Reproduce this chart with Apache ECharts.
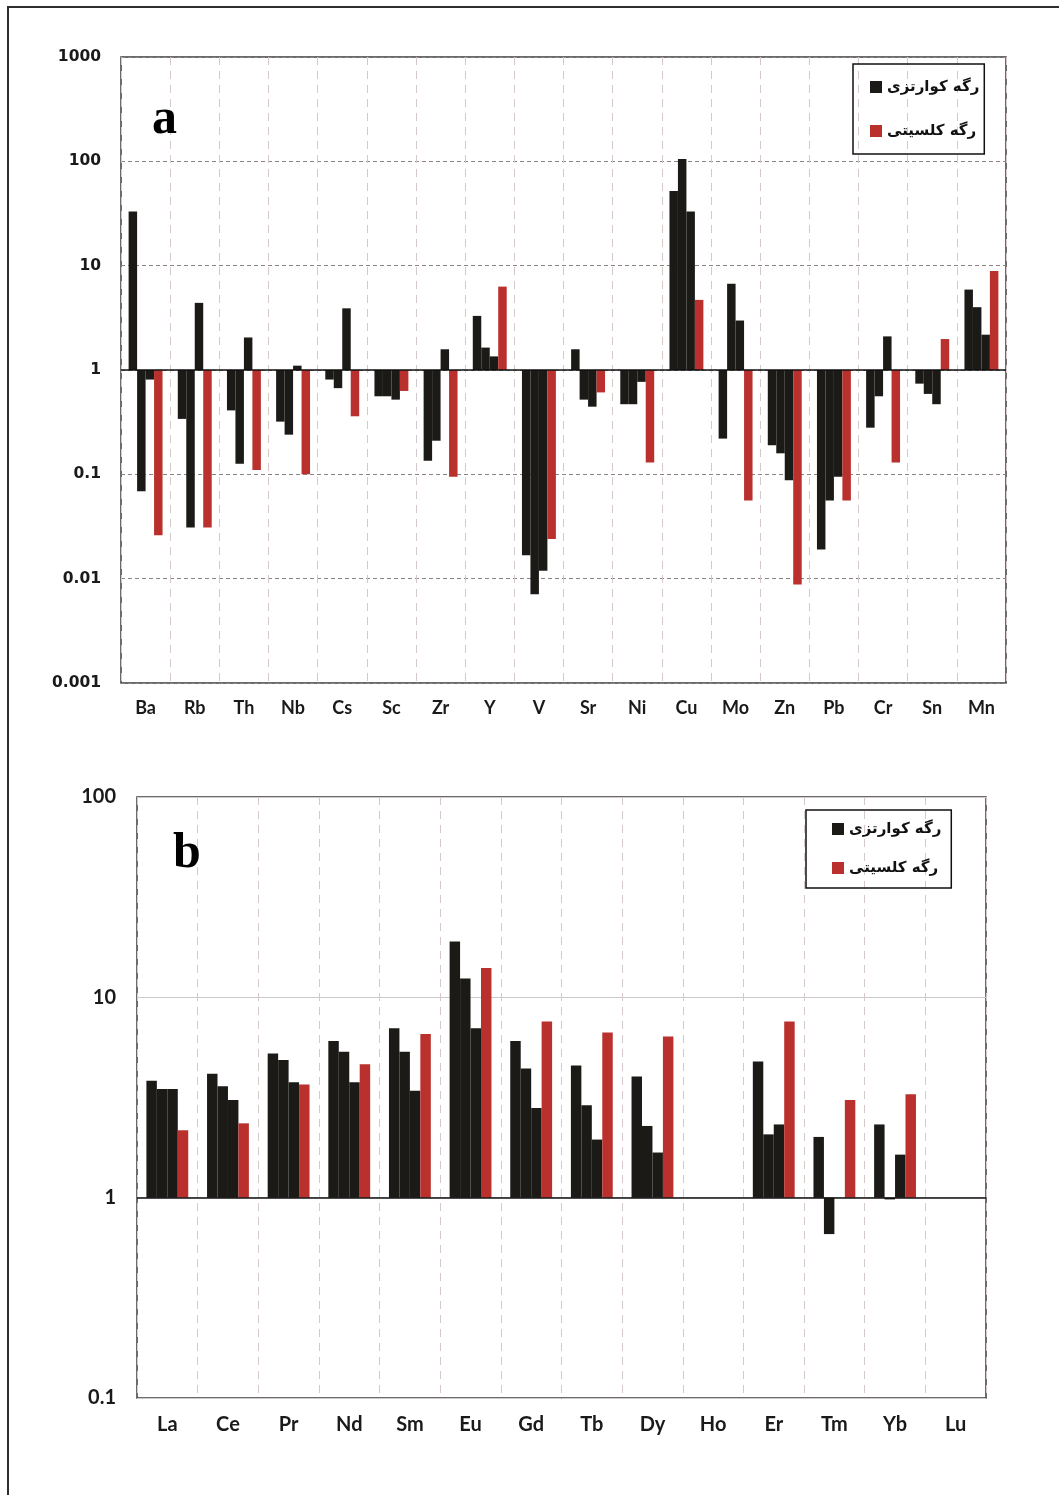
<!DOCTYPE html>
<html>
<head>
<meta charset="utf-8">
<script src="https://cdn.jsdelivr.net/npm/echarts@6/dist/echarts.min.js"></script>
<style>
  html, body { margin: 0; padding: 0; background: #ffffff; }
  #chart { width: 1059px; height: 1495px; }
</style>
</head>
<body>
<div id="chart"></div>
<script>
// Series names (legend text)
const QUARTZ = 'رگه کوارتزی';
const CALCITE = 'رگه کلسیتی';

// ---- Panel a: trace elements (normalised values, log scale) ----
const traceElements = ['Ba', 'Rb', 'Th', 'Nb', 'Cs', 'Sc', 'Zr', 'Y', 'V', 'Sr', 'Ni', 'Cu', 'Mo', 'Zn', 'Pb', 'Cr', 'Sn', 'Mn'];
const traceQuartz1 = [33, 0.34, 0.41, 0.32, 0.81, 0.56, 0.135, 3.3, 0.0168, 1.58, 0.47, 52, 0.22, 0.19, 0.019, 0.28, 0.74, 5.9];
const traceQuartz2 = [0.069, 0.031, 0.126, 0.24, 0.67, 0.56, 0.21, 1.64, 0.0071, 0.52, 0.47, 105, 6.7, 0.159, 0.056, 0.56, 0.59, 4.0];
const traceQuartz3 = [0.81, 4.4, 2.05, 1.1, 3.9, 0.52, 1.58, 1.35, 0.0119, 0.445, 0.77, 33, 2.98, 0.088, 0.095, 2.1, 0.47, 2.18];
const traceCalcite = [0.026, 0.031, 0.11, 0.10, 0.36, 0.63, 0.095, 6.3, 0.024, 0.61, 0.13, 4.7, 0.056, 0.0088, 0.056, 0.13, 1.98, 8.9];
const traceTicks = [0.001, 0.01, 0.1, 1, 10, 100, 1000];

// ---- Panel b: rare earth elements ----
const reeElements = ['La', 'Ce', 'Pr', 'Nd', 'Sm', 'Eu', 'Gd', 'Tb', 'Dy', 'Ho', 'Er', 'Tm', 'Yb', 'Lu'];
const reeQuartz1 = [3.83, 4.15, 5.25, 6.06, 7.0, 19.0, 6.06, 4.57, 4.02, null, 4.78, 2.01, 2.32, null];
const reeQuartz2 = [3.49, 3.6, 4.86, 5.35, 5.35, 12.4, 4.41, 2.89, 2.28, null, 2.07, 0.658, 0.98, null];
const reeQuartz3 = [3.49, 3.07, 3.77, 3.77, 3.42, 7.0, 2.80, 1.95, 1.68, null, 2.32, null, 1.64, null];
const reeCalcite = [2.17, 2.35, 3.67, 4.64, 6.57, 14.0, 7.57, 6.67, 6.37, null, 7.58, 3.07, 3.28, null];
const reeTicks = [0.1, 1, 10, 100];

const BLACK = '#1b1a17';
const RED = '#b9302c';

const chart = echarts.init(document.getElementById('chart'), null, { renderer: 'canvas' });

function fmt(v) { return String(+Number(v).toPrecision(6)); }

function barSeries(name, color, data, idx, withBase) {
  const s = {
    name: name,
    type: 'bar',
    xAxisIndex: idx,
    yAxisIndex: idx,
    data: data,
    itemStyle: { color: color },
    barGap: '0%',
    barCategoryGap: '31%',
    silent: true
  };
  if (withBase) {
    // horizontal reference line at value 1, where bars start
    s.markLine = {
      silent: true,
      symbol: ['none', 'none'],
      label: { show: false },
      lineStyle: { color: '#111', width: 1.5, type: 'solid' },
      data: [{ yAxis: 1 }],
      animation: false
    };
  }
  return s;
}

const legendText = { fontFamily: 'DejaVu Sans', fontWeight: 'bold', fontSize: 15, color: '#111', lineHeight: 16 };

const option = {
  animation: false,
  backgroundColor: '#ffffff',
  grid: [
    { left: 121, top: 57, width: 885, height: 626, show: true, borderColor: '#3c3c3c', borderWidth: 1.5, backgroundColor: 'transparent' },
    { left: 137, top: 797, width: 849, height: 601, show: true, borderColor: '#3c3c3c', borderWidth: 1.5, backgroundColor: 'transparent' }
  ],
  legend: [
    {
      orient: 'vertical', left: 853, top: 64,
      data: [QUARTZ, CALCITE],
      icon: 'rect', itemWidth: 12, itemHeight: 12, itemGap: 28,
      padding: [15, 5, 15, 17],
      borderColor: '#111', borderWidth: 1.5,
      selectedMode: false,
      textStyle: legendText
    },
    {
      orient: 'vertical', left: 806, top: 810,
      data: [QUARTZ, CALCITE],
      icon: 'rect', itemWidth: 12, itemHeight: 12, itemGap: 23,
      padding: [11, 10, 12, 26],
      borderColor: '#111', borderWidth: 1.5,
      selectedMode: false,
      textStyle: legendText
    }
  ],
  xAxis: [
    {
      type: 'category', gridIndex: 0, data: traceElements, boundaryGap: true,
      axisLine: { show: false }, axisTick: { show: false },
      axisLabel: { interval: 0, margin: 16, fontFamily: 'Lato', fontWeight: 'bold', fontSize: 18, color: '#1a1a1a' },
      splitLine: { show: true, interval: 0, lineStyle: { color: '#d4c8c8', width: 1, type: [8, 6] } }
    },
    {
      type: 'category', gridIndex: 1, data: reeElements, boundaryGap: true,
      axisLine: { show: false }, axisTick: { show: false },
      axisLabel: { interval: 0, margin: 17, fontFamily: 'Lato', fontWeight: 'bold', fontSize: 20, color: '#1a1a1a' },
      splitLine: { show: true, interval: 0, lineStyle: { color: '#d4c8c8', width: 1, type: [8, 6] } }
    }
  ],
  yAxis: [
    {
      type: 'log', logBase: 10, gridIndex: 0,
      min: traceTicks[0], max: traceTicks[traceTicks.length - 1], splitNumber: traceTicks.length - 1,
      axisLine: { show: false }, axisTick: { show: false },
      axisLabel: { margin: 20, formatter: fmt, fontFamily: 'DejaVu Sans', fontWeight: 'bold', fontSize: 15.5, color: '#1a1a1a' },
      splitLine: { show: true, lineStyle: { color: '#8a8484', width: 1, type: [4, 3] } }
    },
    {
      type: 'log', logBase: 10, gridIndex: 1,
      min: reeTicks[0], max: reeTicks[reeTicks.length - 1], splitNumber: reeTicks.length - 1,
      axisLine: { show: false }, axisTick: { show: false },
      axisLabel: { margin: 21, formatter: fmt, fontFamily: 'Lato', fontWeight: 'bold', fontSize: 20, color: '#1a1a1a' },
      splitLine: { show: true, lineStyle: { color: '#cfc9c9', width: 1, type: 'solid' } }
    }
  ],
  series: [
    barSeries(QUARTZ, BLACK, traceQuartz1, 0, true),
    barSeries(QUARTZ, BLACK, traceQuartz2, 0, false),
    barSeries(QUARTZ, BLACK, traceQuartz3, 0, false),
    barSeries(CALCITE, RED, traceCalcite, 0, false),
    barSeries(QUARTZ, BLACK, reeQuartz1, 1, true),
    barSeries(QUARTZ, BLACK, reeQuartz2, 1, false),
    barSeries(QUARTZ, BLACK, reeQuartz3, 1, false),
    barSeries(CALCITE, RED, reeCalcite, 1, false)
  ],
  graphic: [
    // outer figure frame
    { type: 'rect', shape: { x: 8, y: 7, width: 1200, height: 1700 }, style: { fill: 'none', stroke: '#2e2e2e', lineWidth: 2 }, silent: true },
    // panel letters
    { type: 'text', left: 152, top: 95, style: { text: 'a', font: 'bold 50px "Liberation Serif"', fill: '#000' }, z: 100 },
    { type: 'text', left: 173, top: 829, style: { text: 'b', font: 'bold 50px "Liberation Serif"', fill: '#000' }, z: 100 }
  ]
};

chart.setOption(option);
</script>
</body>
</html>
